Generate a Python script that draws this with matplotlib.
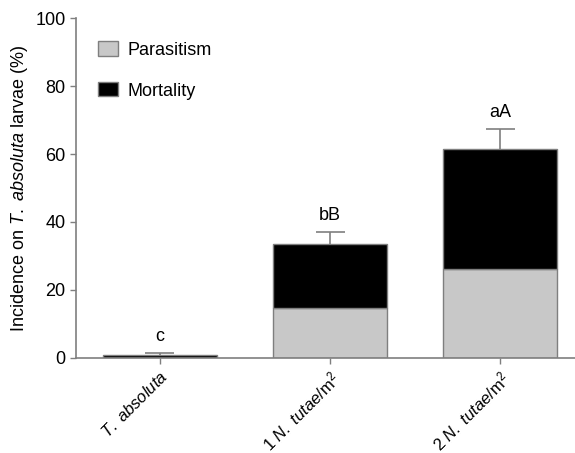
import matplotlib
matplotlib.use("Agg")
import matplotlib.pyplot as plt
import numpy as np

# ===== DATA =====
groups = ["$\\it{T.\\ absoluta}$", "1 $\\it{N.\\ tutae}$/m$^2$", "2 $\\it{N.\\ tutae}$/m$^2$"]
parasitism = [0.0, 14.8, 26.3]
mortality = [0.8, 18.7, 35.1]
err = [0.5, 3.5, 5.9]
letters = ["c", "bB", "aA"]

plt.rcParams["font.family"] = ["Liberation Sans", "DejaVu Sans"]
plt.rcParams["mathtext.fontset"] = "custom"
plt.rcParams["mathtext.rm"] = "Liberation Sans"
plt.rcParams["mathtext.it"] = "Liberation Sans:italic"

axis_col = "#7f7f7f"

fig = plt.figure(figsize=(5.75, 4.53), dpi=100)
ax = fig.add_axes([0.132, 0.21, 0.868, 0.75])

x = np.arange(len(groups))
total = np.array(parasitism) + np.array(mortality)
err = np.array(err)

ax.bar(x, parasitism, width=0.67, color="#c8c8c8", edgecolor=axis_col, linewidth=1, label="Parasitism", zorder=2)
ax.bar(x, mortality, width=0.67, bottom=parasitism, color="black", edgecolor=axis_col, linewidth=1, label="Mortality", zorder=2)

# upper error bars only
ax.vlines(x, total, total + err, color=axis_col, linewidth=1.2, zorder=1)
ax.hlines(total + err, x - 0.085, x + 0.085, color=axis_col, linewidth=1.2, zorder=1)

for xi, t, e, lab in zip(x, total, err, letters):
    ax.text(xi, t + e + 2.5, lab, ha="center", va="bottom", fontsize=13)

ax.set_xlim(-0.494, 2.44)
ax.set_ylim(0, 100)
ax.set_yticks([0, 20, 40, 60, 80, 100])
ax.set_xticks(x)
ax.set_xticklabels(groups, rotation=45, ha="right", rotation_mode="anchor", fontsize=12)
ax.tick_params(axis="y", labelsize=13, colors=axis_col, labelcolor="black", length=4, width=1)
ax.tick_params(axis="x", colors=axis_col, labelcolor="black", length=4, width=1)
ax.set_ylabel("Incidence on $\\it{T.\\ absoluta}$ larvae (%)", fontsize=13)

for s in ["top", "right"]:
    ax.spines[s].set_visible(False)
for s in ["left", "bottom"]:
    ax.spines[s].set_color(axis_col)
    ax.spines[s].set_linewidth(1.2)

ax.legend(loc="upper left", bbox_to_anchor=(0.012, 0.98), frameon=False, fontsize=13,
          handlelength=1.1, handleheight=0.85, labelspacing=1.3, handletextpad=0.55)

fig.savefig("out.png", dpi=100)
